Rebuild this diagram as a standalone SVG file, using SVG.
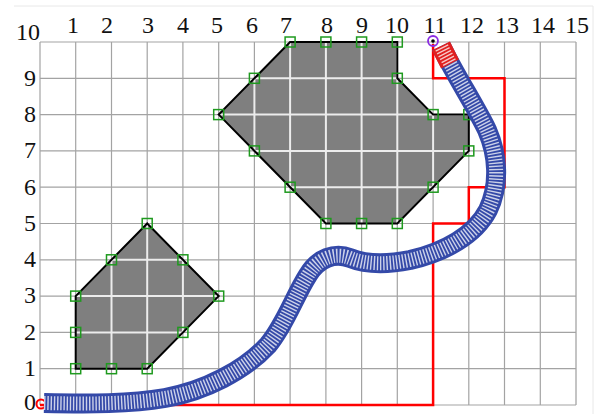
<svg xmlns="http://www.w3.org/2000/svg" width="601" height="414" viewBox="0 0 601 414">
<style>
.lbl{font-family:"Liberation Serif","Times New Roman",serif;font-size:24px;fill:#111;text-anchor:middle}
.grid line{stroke:#a3a3a3;stroke-width:1.2}
.inner line{stroke:#ececec;stroke-width:2}
.obs{fill:#7f7f7f;stroke:none}
.edge{fill:none;stroke:#000;stroke-width:2;stroke-linejoin:miter}
.sq{fill:none;stroke:#1f9a1f;stroke-width:1.5}
.route{fill:none;stroke:#ff0000;stroke-width:2.5}
</style>
<defs>
<rect id="sq" class="sq" x="-5" y="-5" width="10" height="10"/>
<clipPath id="obsclip">
<polygon points="75.7,368.7 147.2,368.7 218.7,296.1 147.2,223.5 75.7,296.1"/>
<polygon points="290.1,42 397.3,42 397.3,78.3 433.1,114.6 468.8,114.6 468.8,150.9 397.3,223.5 325.9,223.5 218.7,114.6"/>
</clipPath>
</defs>
<rect width="601" height="414" fill="#fff"/>
<path d="M14 6H593V414" fill="none" stroke="#e8e8e8" stroke-width="1"/>
<g id="grid" class="grid">
<line x1="40" y1="42" x2="40" y2="405"/>
<line x1="75.7" y1="42" x2="75.7" y2="405"/>
<line x1="111.5" y1="42" x2="111.5" y2="405"/>
<line x1="147.2" y1="42" x2="147.2" y2="405"/>
<line x1="182.9" y1="42" x2="182.9" y2="405"/>
<line x1="218.7" y1="42" x2="218.7" y2="405"/>
<line x1="254.4" y1="42" x2="254.4" y2="405"/>
<line x1="290.1" y1="42" x2="290.1" y2="405"/>
<line x1="325.9" y1="42" x2="325.9" y2="405"/>
<line x1="361.6" y1="42" x2="361.6" y2="405"/>
<line x1="397.3" y1="42" x2="397.3" y2="405"/>
<line x1="433.1" y1="42" x2="433.1" y2="405"/>
<line x1="468.8" y1="42" x2="468.8" y2="405"/>
<line x1="504.5" y1="42" x2="504.5" y2="405"/>
<line x1="540.3" y1="42" x2="540.3" y2="405"/>
<line x1="576" y1="42" x2="576" y2="405" style="stroke:#c4c4c4;stroke-width:2"/>
<line x1="40" y1="42" x2="576" y2="42"/>
<line x1="40" y1="78.3" x2="576" y2="78.3"/>
<line x1="40" y1="114.6" x2="576" y2="114.6"/>
<line x1="40" y1="150.9" x2="576" y2="150.9"/>
<line x1="40" y1="187.2" x2="576" y2="187.2"/>
<line x1="40" y1="223.5" x2="576" y2="223.5"/>
<line x1="40" y1="259.8" x2="576" y2="259.8"/>
<line x1="40" y1="296.1" x2="576" y2="296.1"/>
<line x1="40" y1="332.4" x2="576" y2="332.4"/>
<line x1="40" y1="368.7" x2="576" y2="368.7"/>
<line x1="40" y1="405" x2="576" y2="405"/>
</g>
<g id="labels">
<text class="lbl" x="73" y="33">1</text>
<text class="lbl" x="107" y="33">2</text>
<text class="lbl" x="148" y="33">3</text>
<text class="lbl" x="183" y="33">4</text>
<text class="lbl" x="217" y="33">5</text>
<text class="lbl" x="252" y="33">6</text>
<text class="lbl" x="286" y="33">7</text>
<text class="lbl" x="327" y="33">8</text>
<text class="lbl" x="362" y="33">9</text>
<text class="lbl" x="397" y="33">10</text>
<text class="lbl" x="435" y="33">11</text>
<text class="lbl" x="472" y="33">12</text>
<text class="lbl" x="507" y="33">13</text>
<text class="lbl" x="543" y="33">14</text>
<text class="lbl" x="577" y="33">15</text>
<text class="lbl" x="28" y="40">10</text>
<text class="lbl" x="30" y="86">9</text>
<text class="lbl" x="30" y="122">8</text>
<text class="lbl" x="30" y="158">7</text>
<text class="lbl" x="30" y="195">6</text>
<text class="lbl" x="30" y="231">5</text>
<text class="lbl" x="30" y="267">4</text>
<text class="lbl" x="30" y="303">3</text>
<text class="lbl" x="30" y="340">2</text>
<text class="lbl" x="30" y="376">1</text>
<text class="lbl" x="30" y="410">0</text>
</g>
<g id="obstacle1">
<polygon class="obs" points="75.7,368.7 147.2,368.7 218.7,296.1 147.2,223.5 75.7,296.1"/>
</g>
<g id="obstacle2">
<polygon class="obs" points="290.1,42 397.3,42 397.3,78.3 433.1,114.6 468.8,114.6 468.8,150.9 397.3,223.5 325.9,223.5 218.7,114.6"/>
</g>
<g class="inner" clip-path="url(#obsclip)">
<line x1="111.5" y1="42" x2="111.5" y2="405"/>
<line x1="147.2" y1="42" x2="147.2" y2="405"/>
<line x1="182.9" y1="42" x2="182.9" y2="405"/>
<line x1="254.4" y1="42" x2="254.4" y2="405"/>
<line x1="290.1" y1="42" x2="290.1" y2="405"/>
<line x1="325.9" y1="42" x2="325.9" y2="405"/>
<line x1="361.6" y1="42" x2="361.6" y2="405"/>
<line x1="397.3" y1="42" x2="397.3" y2="405"/>
<line x1="433.1" y1="42" x2="433.1" y2="405"/>
<line x1="40" y1="78.3" x2="576" y2="78.3"/>
<line x1="40" y1="114.6" x2="576" y2="114.6"/>
<line x1="40" y1="150.9" x2="576" y2="150.9"/>
<line x1="40" y1="187.2" x2="576" y2="187.2"/>
<line x1="40" y1="259.8" x2="576" y2="259.8"/>
<line x1="40" y1="296.1" x2="576" y2="296.1"/>
<line x1="40" y1="332.4" x2="576" y2="332.4"/>
</g>
<g id="edges">
<polygon class="edge" points="75.7,368.7 147.2,368.7 218.7,296.1 147.2,223.5 75.7,296.1"/>
<polygon class="edge" points="290.1,42 397.3,42 397.3,78.3 433.1,114.6 468.8,114.6 468.8,150.9 397.3,223.5 325.9,223.5 218.7,114.6"/>
</g>
<g id="vertices">
<use href="#sq" x="75.7" y="368.7"/><use href="#sq" x="111.5" y="368.7"/><use href="#sq" x="147.2" y="368.7"/>
<use href="#sq" x="182.9" y="332.4"/><use href="#sq" x="218.7" y="296.1"/><use href="#sq" x="182.9" y="259.8"/>
<use href="#sq" x="147.2" y="223.5"/><use href="#sq" x="111.5" y="259.8"/><use href="#sq" x="75.7" y="296.1"/>
<use href="#sq" x="75.7" y="332.4"/>
<use href="#sq" x="290.1" y="42"/><use href="#sq" x="325.9" y="42"/><use href="#sq" x="361.6" y="42"/>
<use href="#sq" x="397.3" y="42"/><use href="#sq" x="397.3" y="78.3"/><use href="#sq" x="433.1" y="114.6"/>
<use href="#sq" x="468.8" y="114.6"/><use href="#sq" x="468.8" y="150.9"/><use href="#sq" x="433.1" y="187.2"/>
<use href="#sq" x="397.3" y="223.5"/><use href="#sq" x="361.6" y="223.5"/><use href="#sq" x="325.9" y="223.5"/>
<use href="#sq" x="290.1" y="187.2"/><use href="#sq" x="254.4" y="150.9"/><use href="#sq" x="218.7" y="114.6"/>
<use href="#sq" x="254.4" y="78.3"/>
</g>
<g id="connectors">
<path class="route" d="M40 405H433.1V223.5H468.8V187.2H504.5V78.3H433.1V44"/>
<circle cx="41" cy="404" r="4.5" fill="none" stroke="#ff0000" stroke-width="2"/>
<path id="tube" d="M44 403 C90 404,130 404,165 398 C205 391,245 370,268 345 C285 325,295 295,308 275 C318 258,335 252,350 258 C365 264,385 265,410 260 C445 252,475 235,488 210 C500 185,498 155,487 130 C475 105,455 75,441 46" fill="none" stroke="#3449a8" stroke-width="20"/>
<path d="M441 46 L450 64" fill="none" stroke="#e02020" stroke-width="20"/>
<path d="M44 403 C90 404,130 404,165 398 C205 391,245 370,268 345 C285 325,295 295,308 275 C318 258,335 252,350 258 C365 264,385 265,410 260 C445 252,475 235,488 210 C500 185,498 155,487 130 C475 105,455 75,441 46" fill="none" stroke="#ffffff" stroke-opacity="0.75" stroke-width="14" stroke-dasharray="1.4 1.8"/>
<circle cx="433" cy="41" r="5" fill="none" stroke="#8a2be2" stroke-width="1.8"/>
<circle cx="433" cy="41" r="1.8" fill="#000"/>
</g>
</svg>
